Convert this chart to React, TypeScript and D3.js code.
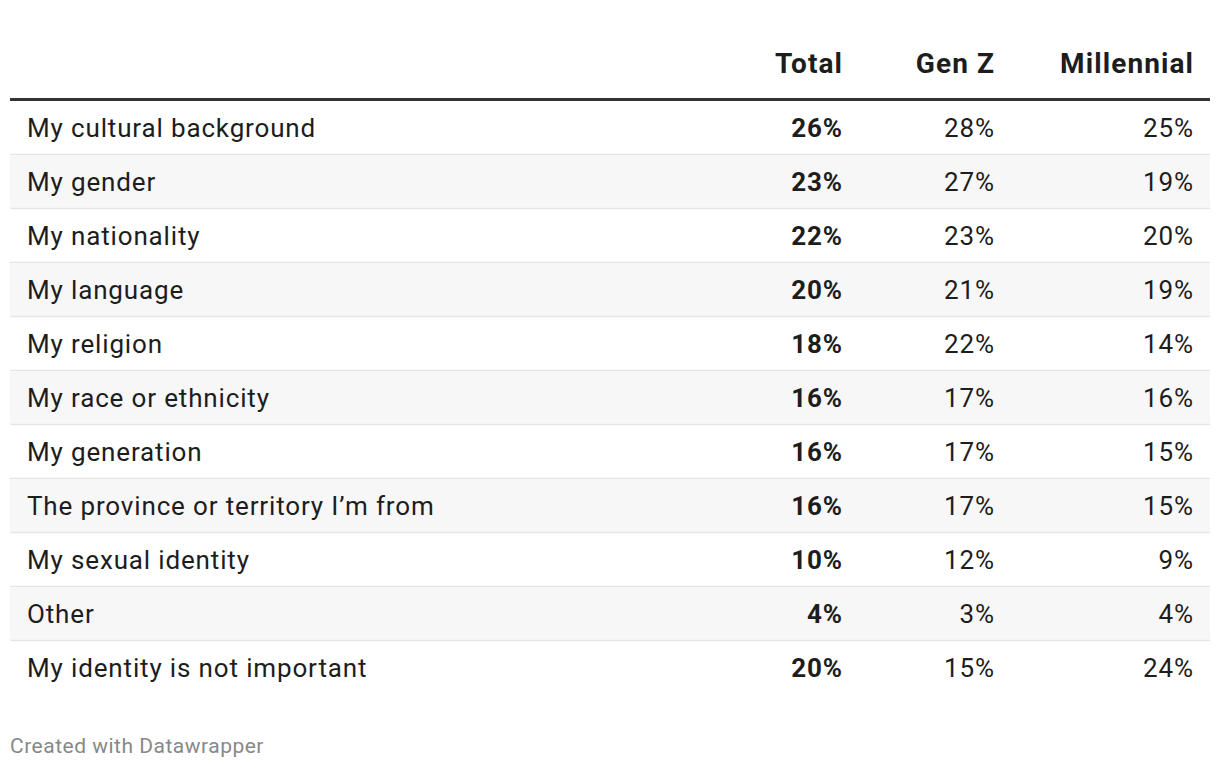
import React from "react";
import * as d3 from "d3";

const categories = [
  "My cultural background",
  "My gender",
  "My nationality",
  "My language",
  "My religion",
  "My race or ethnicity",
  "My generation",
  "The province or territory I’m from",
  "My sexual identity",
  "Other",
  "My identity is not important",
];
const columns = ["Total", "Gen Z", "Millennial"];
const totalValues = [26, 23, 22, 20, 18, 16, 16, 16, 10, 4, 20];
const genZValues = [28, 27, 23, 21, 22, 17, 17, 17, 12, 3, 15];
const millennialValues = [25, 19, 20, 19, 14, 16, 15, 15, 9, 4, 24];
const footer = "Created with Datawrapper";

const W = 1220;
const H = 770;
const left = 10;
const right = 1210;
const tableTop = 101;
const rowH = 54;
const colRight = [842, 994, 1193];
const FONT = "Roboto, 'Noto Sans', sans-serif";
const bodyLS = 0.85;
const headLS = 1.1;

export default function App() {
  const series = [totalValues, genZValues, millennialValues];
  const y = d3
    .scaleBand<number>()
    .domain(d3.range(categories.length))
    .range([tableTop, tableTop + rowH * categories.length])
    .paddingInner(0)
    .paddingOuter(0);
  const fmt = (v: number) => `${v}%`;

  return (
    <svg
      width={W}
      height={H}
      style={{ position: "absolute", left: 0, top: 0, background: "#fff" }}
      fontFamily={FONT}
    >
      {columns.map((c, j) => (
        <text
          key={c}
          x={colRight[j] + headLS}
          y={63}
          textAnchor="end"
          dominantBaseline="central"
          fontSize={28}
          fontWeight={700}
          letterSpacing={headLS}
          fill="#1d1d1d"
        >
          {c}
        </text>
      ))}
      {categories.map((cat, i) => {
        const y0 = y(i)!;
        const cy = y0 + y.bandwidth() / 2;
        return (
          <g key={cat}>
            {i % 2 === 1 && (
              <rect x={left} y={y0} width={right - left} height={y.bandwidth()} fill="#f7f7f7" />
            )}
            {i < categories.length - 1 && (
              <line x1={left} x2={right} y1={y0 + rowH - 0.5} y2={y0 + rowH - 0.5} stroke="#e6e6e6" strokeWidth={1.5} />
            )}
            <text x={27} y={cy} dominantBaseline="central" fontSize={26} letterSpacing={bodyLS} fill="#1d1d1d">
              {cat}
            </text>
            {series.map((s, j) => (
              <text
                key={j}
                x={colRight[j] + bodyLS}
                y={cy}
                textAnchor="end"
                dominantBaseline="central"
                fontSize={26}
                fontWeight={j === 0 ? 700 : 400}
                letterSpacing={bodyLS}
                fill="#1d1d1d"
              >
                {fmt(s[i])}
              </text>
            ))}
          </g>
        );
      })}
      <rect x={left} y={98} width={right - left} height={3} fill="#333" />
      <text x={10} y={746} dominantBaseline="central" fontSize={21} letterSpacing={0.5} fill="#888">
        {footer}
      </text>
    </svg>
  );
}
